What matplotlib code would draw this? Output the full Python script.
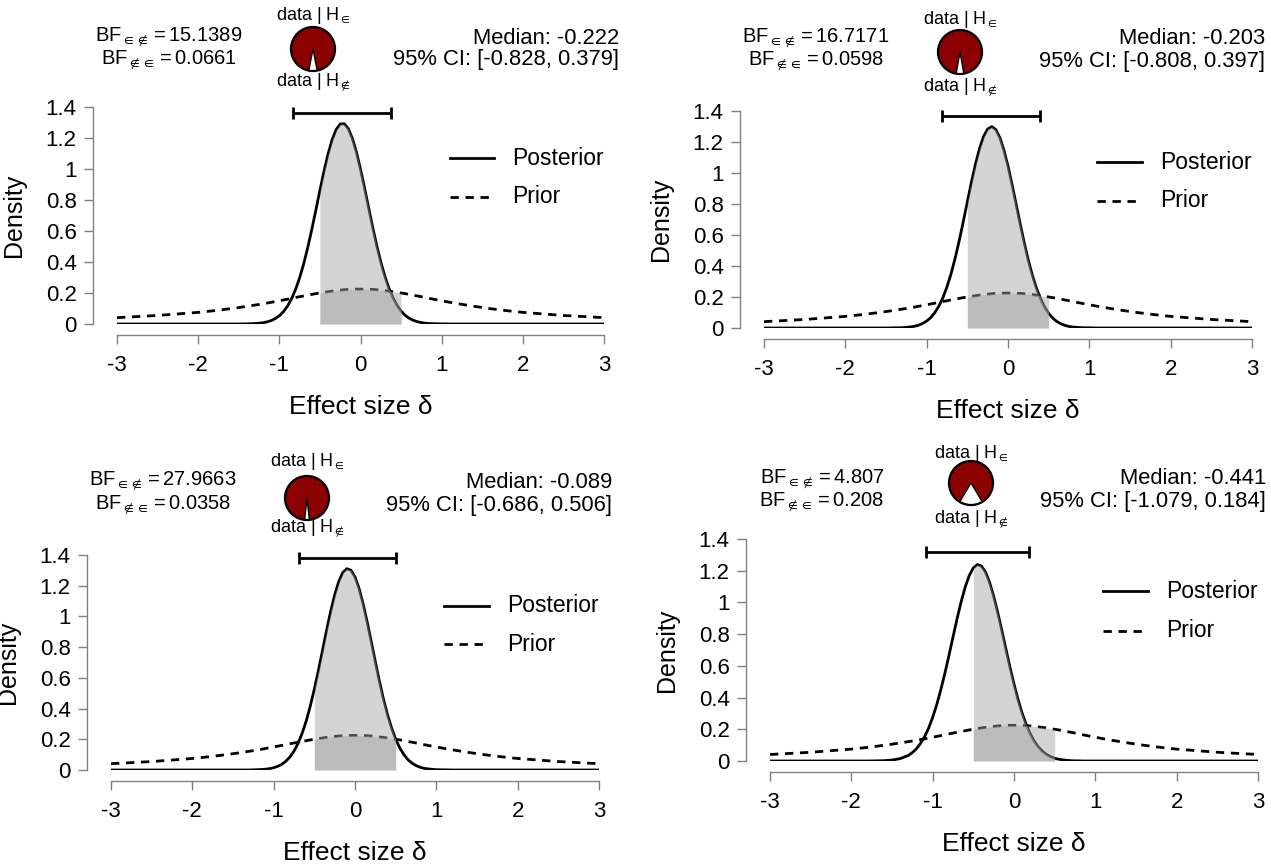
import numpy as np
import matplotlib
matplotlib.use("Agg")
import matplotlib.pyplot as plt
from matplotlib.patches import Wedge, Circle

plt.rcParams['font.family'] = ['Liberation Sans', 'DejaVu Sans']
plt.rcParams['mathtext.fontset'] = 'custom'
plt.rcParams['mathtext.rm'] = 'Liberation Sans'
plt.rcParams['mathtext.it'] = 'Liberation Sans:italic'
plt.rcParams['mathtext.bf'] = 'Liberation Sans:bold'
plt.rcParams['mathtext.fallback'] = 'stixsans'
plt.rcParams['axes.unicode_minus'] = False

W, H = 1271, 867

# ---- data ----
delta_grid = [-3.0, -2.5, -2.0, -1.8, -1.6, -1.5, -1.4, -1.3,
              -1.25, -1.2, -1.15, -1.1, -1.05, -1.0, -0.95, -0.9, -0.85, -0.8, -0.75, -0.7, -0.65, -0.6, -0.55, -0.5,
              -0.45, -0.4, -0.35, -0.3, -0.25, -0.2, -0.15, -0.1, -0.05, 0.0,
              0.05, 0.1, 0.15, 0.2, 0.25, 0.3, 0.35, 0.4, 0.45, 0.5,
              0.55, 0.6, 0.65, 0.7, 0.75, 0.8, 0.85,
              0.9, 1.0, 1.1, 1.2, 1.4, 1.6, 1.8, 2.0, 2.5, 3.0]

prior_density = [0.041, 0.055, 0.075, 0.086, 0.099, 0.106, 0.114, 0.122,
                 0.126, 0.131, 0.135, 0.140, 0.145, 0.150, 0.155, 0.160, 0.165, 0.171, 0.176, 0.181, 0.186, 0.191, 0.196, 0.200,
                 0.204, 0.208, 0.212, 0.215, 0.218, 0.221, 0.223, 0.224, 0.225, 0.225,
                 0.225, 0.224, 0.223, 0.221, 0.218, 0.215, 0.212, 0.208, 0.204, 0.200,
                 0.196, 0.191, 0.186, 0.181, 0.176, 0.171, 0.165,
                 0.160, 0.150, 0.140, 0.131, 0.114, 0.099, 0.086, 0.075, 0.055, 0.041]

posterior_1 = [0, 0, 0, 0, 0, 0, 0.001, 0.003,
               0.005, 0.008, 0.014, 0.022, 0.035, 0.053, 0.079, 0.115, 0.162, 0.223, 0.298, 0.388, 0.493, 0.610, 0.735, 0.862,
               0.985, 1.096, 1.188, 1.254, 1.290, 1.292, 1.260, 1.197, 1.108, 0.998,
               0.877, 0.750, 0.624, 0.507, 0.400, 0.308, 0.231, 0.169, 0.120, 0.083,
               0.056, 0.037, 0.024, 0.015, 0.009, 0.005, 0.003,
               0.002, 0.001, 0, 0, 0, 0, 0, 0, 0, 0]
posterior_2 = [0, 0, 0, 0, 0, 0, 0.001, 0.002,
               0.004, 0.007, 0.011, 0.018, 0.029, 0.045, 0.067, 0.099, 0.141, 0.196, 0.266, 0.350, 0.450, 0.563, 0.686, 0.814,
               0.940, 1.057, 1.158, 1.236, 1.284, 1.299, 1.280, 1.228, 1.147, 1.044,
               0.925, 0.798, 0.671, 0.549, 0.437, 0.339, 0.257, 0.189, 0.135, 0.094,
               0.064, 0.042, 0.027, 0.017, 0.010, 0.006, 0.004,
               0.002, 0.001, 0, 0, 0, 0, 0, 0, 0, 0]
posterior_3 = [0, 0, 0, 0, 0, 0, 0, 0,
               0.001, 0.002, 0.003, 0.005, 0.009, 0.015, 0.024, 0.037, 0.057, 0.085, 0.123, 0.174, 0.239, 0.319, 0.416, 0.526,
               0.648, 0.777, 0.908, 1.031, 1.140, 1.227, 1.286, 1.311, 1.301, 1.257,
               1.182, 1.081, 0.963, 0.835, 0.705, 0.578, 0.462, 0.360, 0.273, 0.201,
               0.144, 0.101, 0.068, 0.045, 0.029, 0.018, 0.011,
               0.007, 0.002, 0.001, 0, 0, 0, 0, 0, 0, 0]
posterior_4 = [0, 0, 0, 0, 0.002, 0.006, 0.015, 0.035,
               0.053, 0.077, 0.110, 0.153, 0.207, 0.275, 0.355, 0.449, 0.553, 0.665, 0.782, 0.897, 1.004, 1.097, 1.170, 1.218,
               1.239, 1.229, 1.191, 1.126, 1.039, 0.936, 0.824, 0.707, 0.593, 0.485,
               0.387, 0.302, 0.230, 0.171, 0.124, 0.088, 0.061, 0.041, 0.027, 0.017,
               0.011, 0.007, 0.004, 0.002, 0.001, 0.001, 0,
               0, 0, 0, 0, 0, 0, 0, 0, 0, 0]
posteriors = [posterior_1, posterior_2, posterior_3, posterior_4]

bf10_text = ['15.1389', '16.7171', '27.9663', '4.807']
bf01_text = ['0.0661', '0.0598', '0.0358', '0.208']
bf10 = [float(v) for v in bf10_text]
medians = ['-0.222', '-0.203', '-0.089', '-0.441']
ci_lower = [-0.828, -0.808, -0.686, -1.079]
ci_upper = [0.379, 0.397, 0.506, 0.184]
ci_bar_y = [1.36, 1.37, 1.38, 1.32]
rope = (-0.5, 0.5)

xticks = [-3, -2, -1, 0, 1, 2, 3]
xtick_labels = ['-3', '-2', '-1', '0', '1', '2', '3']
yticks = [0, 0.2, 0.4, 0.6, 0.8, 1.0, 1.2, 1.4]
ytick_labels = ['0', '0.2', '0.4', '0.6', '0.8', '1', '1.2', '1.4']

# ---- layout (pixels in the original picture) ----
# x of delta=-3, x of delta=3, y of density=0, y of density=1.4
panel_px = [(117, 604, 324, 107), (764, 1252, 328, 111),
            (111, 599, 770, 555), (770, 1258, 761, 539)]
bf_px = [(169, 37, 60), (816, 38, 61), (163, 481, 505), (822, 479, 502)]
pie_px = [(313, 49, 15, 82), (960, 52, 20, 87), (307, 498, 462, 528), (971, 483, 454, 519)]
median_px = [(619, 38, 60), (1265, 39, 61), (612, 482, 505), (1266, 479, 501)]

fig = plt.figure(figsize=(W / 100, H / 100), dpi=100)
grid = np.array(delta_grid)
prior = np.array(prior_density)
in_rope = (grid >= rope[0]) & (grid <= rope[1])
dash = (0, (3.0, 2.4))


def fx(px):
    return px / W


def fy(py):
    return 1 - py / H


for i in range(4):
    x0, x1, y0, y1 = panel_px[i]
    ax = fig.add_axes([fx(x0), fy(y0), (x1 - x0) / W, (y0 - y1) / H])
    post = np.array(posteriors[i])

    ax.plot(grid, post, color='black', lw=2.0, zorder=3)
    ax.plot(grid, prior, color='black', lw=2.0, linestyle=dash, zorder=3)
    ax.fill_between(grid, 0, post, where=in_rope, color='#a0a0a0', alpha=0.45, lw=0, zorder=4)
    ax.fill_between(grid, 0, prior, where=in_rope, color='#a0a0a0', alpha=0.45, lw=0, zorder=4)

    med = float(medians[i])
    ax.errorbar(med, ci_bar_y[i], xerr=[[med - ci_lower[i]], [ci_upper[i] - med]],
                fmt='none', ecolor='black', elinewidth=2.0, capsize=4.5, capthick=2.0,
                clip_on=False, zorder=5)

    # legend
    ax.plot([1.10, 1.65], [1.07, 1.07], color='black', lw=2.0, clip_on=False)
    ax.plot([1.10, 1.65], [0.82, 0.82], color='black', lw=2.0, linestyle=dash, clip_on=False)
    ax.text(1.87, 1.07, 'Posterior', fontsize=16.5, va='center', ha='left')
    ax.text(1.87, 0.82, 'Prior', fontsize=16.5, va='center', ha='left')

    ax.set_xlim(-3, 3)
    ax.set_ylim(0, 1.4)
    ax.set_xticks(xticks)
    ax.set_xticklabels(xtick_labels)
    ax.set_yticks(yticks)
    ax.set_yticklabels(ytick_labels)
    for s in ['top', 'right']:
        ax.spines[s].set_visible(False)
    ax.spines['left'].set_position(('outward', 17.5))
    ax.spines['bottom'].set_position(('outward', 8))
    ax.spines['left'].set_bounds(0, 1.4)
    ax.spines['bottom'].set_bounds(-3, 3)
    for s in ['left', 'bottom']:
        ax.spines[s].set_color('#808080')
        ax.spines[s].set_linewidth(1.0)
    ax.tick_params(axis='both', direction='out', length=6.5, width=1.0,
                   color='#808080', labelsize=16, pad=5)
    ax.tick_params(axis='x', pad=8)

    ax.text(-103 / (x1 - x0), 0.5, 'Density', transform=ax.transAxes, rotation=90,
            ha='center', va='center', fontsize=18)
    ax.text(0.5, -83 / (y0 - y1), 'Effect size δ', transform=ax.transAxes,
            ha='center', va='center', fontsize=19)

    # Bayes factor text
    bx, by1, by2 = bf_px[i]
    fig.text(fx(bx), fy(by1), r'$\mathrm{BF}_{\in\notin} = ' + bf10_text[i] + '$',
             ha='center', va='center', fontsize=14.5)
    fig.text(fx(bx), fy(by2), r'$\mathrm{BF}_{\notin\in} = ' + bf01_text[i] + '$',
             ha='center', va='center', fontsize=14.5)

    # median and credible interval
    mx, my1, my2 = median_px[i]
    fig.text(fx(mx), fy(my1), 'Median: ' + medians[i], ha='right', va='center', fontsize=15.8)
    fig.text(fx(mx), fy(my2), '95%% CI: [%.3f, %.3f]' % (ci_lower[i], ci_upper[i]),
             ha='right', va='center', fontsize=15.8)

    # probability wheel
    px, py, ty, by = pie_px[i]
    size = 48
    pax = fig.add_axes([fx(px - size / 2), fy(py + size / 2), size / W, size / H])
    pax.set_xlim(-1.09, 1.09)
    pax.set_ylim(-1.09, 1.09)
    pax.axis('off')
    p0 = 1.0 / (1.0 + bf10[i])
    half = 180.0 * p0
    pax.add_patch(Wedge((0, 0), 1, 270 + half, 270 - half + 360, facecolor='#8b0000', edgecolor='none'))
    pax.add_patch(Wedge((0, 0), 1, 270 - half, 270 + half, facecolor='white', edgecolor='black', lw=1.0))
    pax.add_patch(Circle((0, 0), 1, facecolor='none', edgecolor='black', lw=1.6))
    fig.text(fx(px), fy(ty), r'data | $\mathrm{H}_{\in}$', ha='center', va='center', fontsize=13)
    fig.text(fx(px), fy(by), r'data | $\mathrm{H}_{\notin}$', ha='center', va='center', fontsize=13)

fig.savefig('out.png', dpi=100)
